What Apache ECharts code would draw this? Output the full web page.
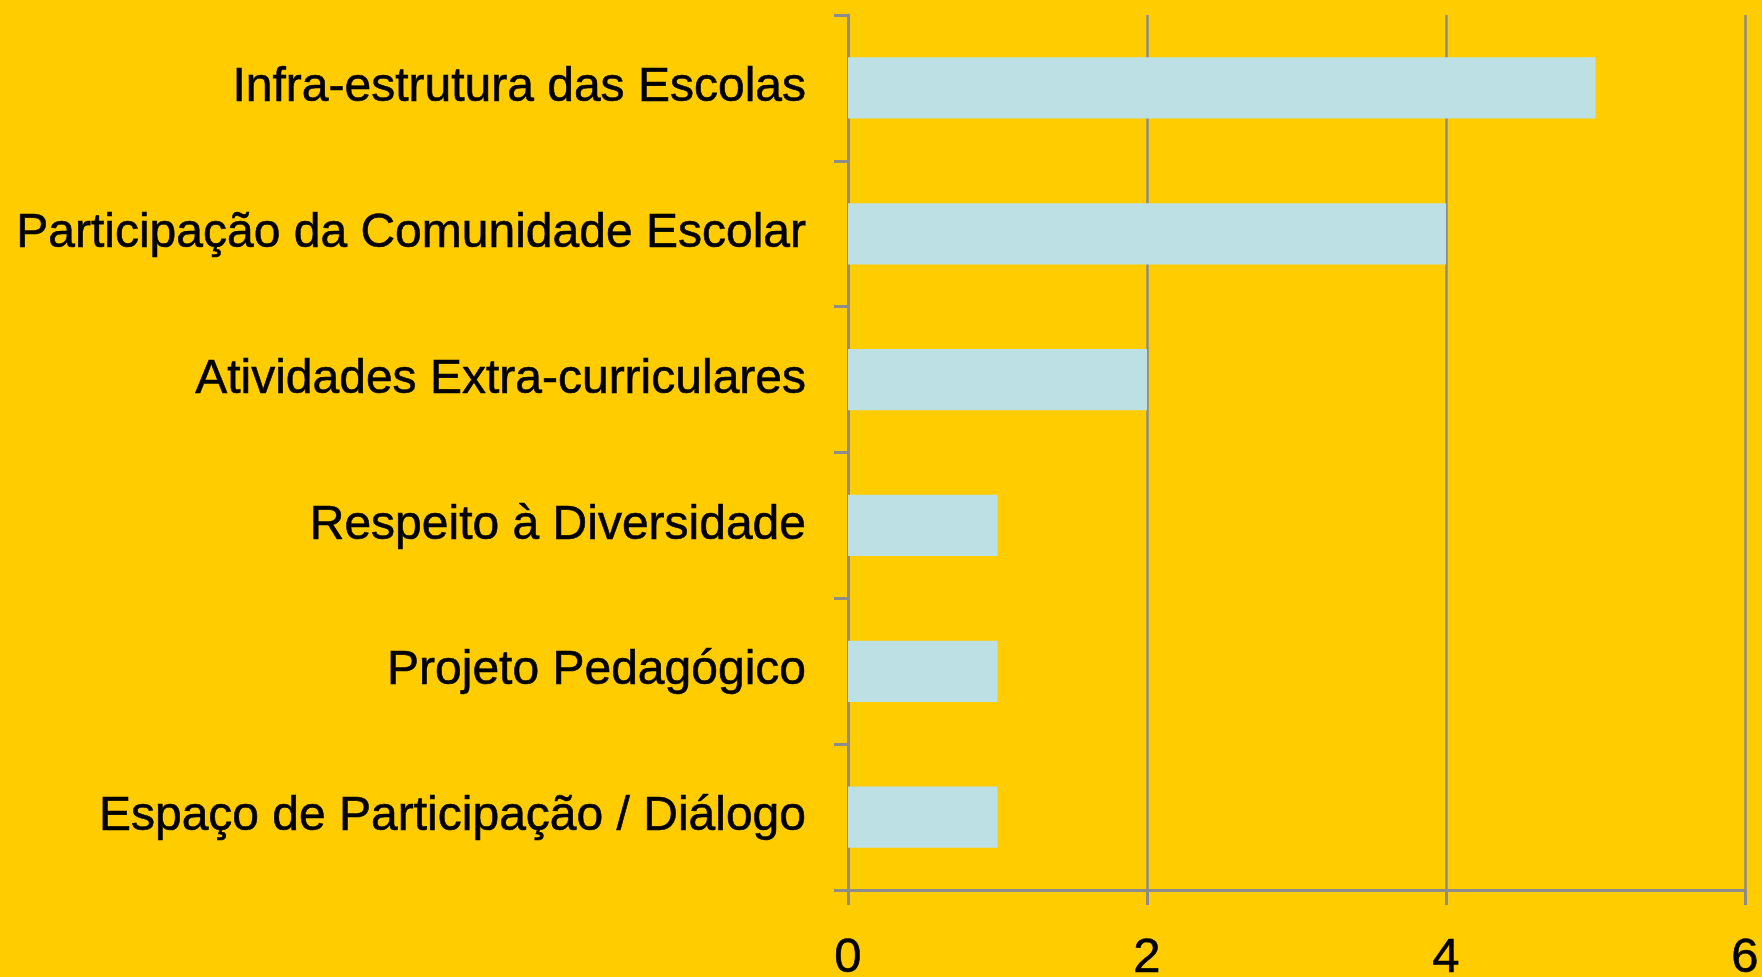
<!DOCTYPE html>
<html>
<head>
<meta charset="utf-8">
<script src="https://cdn.jsdelivr.net/npm/echarts@6/dist/echarts.min.js"></script>
<style>
html,body{margin:0;padding:0;background:#FFCC00;}
#chart{width:1762px;height:977px;}
</style>
</head>
<body>
<div id="chart"></div>
<script>
const categories = [
  "Infra-estrutura das Escolas",
  "Participação da Comunidade Escolar",
  "Atividades Extra-curriculares",
  "Respeito à Diversidade",
  "Projeto Pedagógico",
  "Espaço de Participação / Diálogo"
];
const values = [5, 4, 2, 1, 1, 1];
const xTicks = { min: 0, max: 6, interval: 2 };

const chart = echarts.init(document.getElementById('chart'), null, {renderer: 'canvas'});
const axisGray = '#8C8C8C';
const font = 'Liberation Sans, Arial, sans-serif';
chart.setOption({
  backgroundColor: '#FFCC00',
  animation: false,
  grid: { left: 848, top: 15, right: 17, bottom: 87, containLabel: false, outerBoundsMode: 'none' },
  xAxis: {
    type: 'value',
    min: xTicks.min, max: xTicks.max, interval: xTicks.interval,
    axisLine: { show: true, lineStyle: { color: axisGray, width: 3 } },
    axisTick: { show: true, length: 15, lineStyle: { color: axisGray, width: 3 } },
    splitLine: { show: true, lineStyle: { color: axisGray, width: 2.5 } },
    axisLabel: { color: '#000', fontSize: 49, fontFamily: font, margin: 44,
      textBorderColor: '#000', textBorderWidth: 0.6 }
  },
  yAxis: {
    type: 'category',
    data: categories,
    inverse: true,
    axisLine: { show: true, lineStyle: { color: axisGray, width: 3 } },
    axisTick: { show: true, length: 14, alignWithLabel: false, lineStyle: { color: axisGray, width: 3 } },
    splitLine: { show: false },
    axisLabel: { color: '#000', fontSize: 48, fontFamily: font, margin: 42,
      textBorderColor: '#000', textBorderWidth: 0.6 }
  },
  series: [{
    type: 'bar',
    data: values,
    barWidth: '42%',
    itemStyle: { color: '#BCE0E4' }
  }]
});
</script>
</body>
</html>
